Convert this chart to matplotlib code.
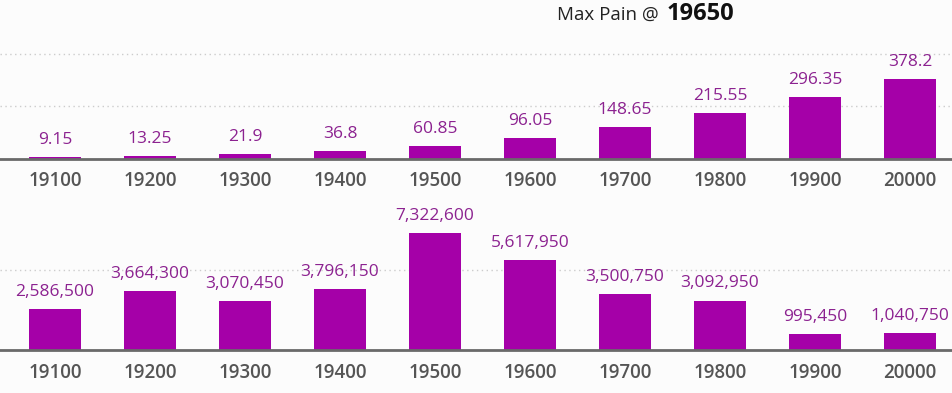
import numpy as np
import matplotlib
matplotlib.use('Agg')
import matplotlib.pyplot as plt

strikes = ['19100', '19200', '19300', '19400', '19500',
           '19600', '19700', '19800', '19900', '20000']
premium = [9.15, 13.25, 21.9, 36.8, 60.85, 96.05, 148.65, 215.55, 296.35, 378.2]
pain = [2586500, 3664300, 3070450, 3796150, 7322600,
        5617950, 3500750, 3092950, 995450, 1040750]
top_grid = [250, 500]
bot_grid = [5000000]

bar_col = '#a500a8'
lab_col = '#8c2290'
bg = '#fcfcfc'
W, H = 953, 393

plt.rcParams['font.family'] = ['Open Sans', 'DejaVu Sans']

fig = plt.figure(figsize=(W / 100, H / 100), dpi=100)
fig.patch.set_facecolor(bg)

def px_axes(y_top, y_base):
    # axes spanning full width, from pixel row y_top down to baseline y_base
    return fig.add_axes([0, 1 - y_base / H, 1, (y_base - y_top) / H])

def draw(ax, vals, labels, ymax, grid):
    x = np.arange(len(vals))
    ax.set_facecolor(bg)
    ax.bar(x, vals, width=0.54, color=bar_col, zorder=3)
    for xi, v, t in zip(x, vals, labels):
        ax.annotate(t, (xi, v), xytext=(0, 6.5), textcoords='offset points',
                    ha='center', va='bottom', color=lab_col, fontsize=12.5, zorder=4)
    ax.set_xlim(-55 / 95, (W - 55) / 95)
    ax.set_ylim(0, ymax)
    ax.set_yticks(grid)
    ax.yaxis.grid(True, color='#cccccc', linestyle=(0, (1, 2.5)), linewidth=1)
    ax.tick_params(axis='y', left=False, labelleft=False)
    ax.set_xticks(x)
    ax.set_xticklabels(strikes, fontsize=13.5, fontweight='semibold', color='#555555')
    ax.tick_params(axis='x', length=0, pad=9)
    for s in ['top', 'left', 'right']:
        ax.spines[s].set_visible(False)
    ax.spines['bottom'].set_color('#6a6a6a')
    ax.spines['bottom'].set_linewidth(2)
    ax.spines['bottom'].set_zorder(5)

ax1 = px_axes(0, 158.5)
draw(ax1, premium, [f'{v:g}' for v in premium], 158.5 / 0.209, top_grid)

ax2 = px_axes(200, 350)
draw(ax2, pain, [f'{v:,}' for v in pain], 150 / 16e-6, bot_grid)

fig.text(557 / W, 1 - 15 / H, 'Max Pain @', fontsize=13.5, color='#222222',
         ha='left', va='center')
fig.text(667 / W, 1 - 14 / H, '19650', fontsize=17, fontweight='bold',
         color='#111111', ha='left', va='center')

fig.savefig('out.png', dpi=100, facecolor=bg)
